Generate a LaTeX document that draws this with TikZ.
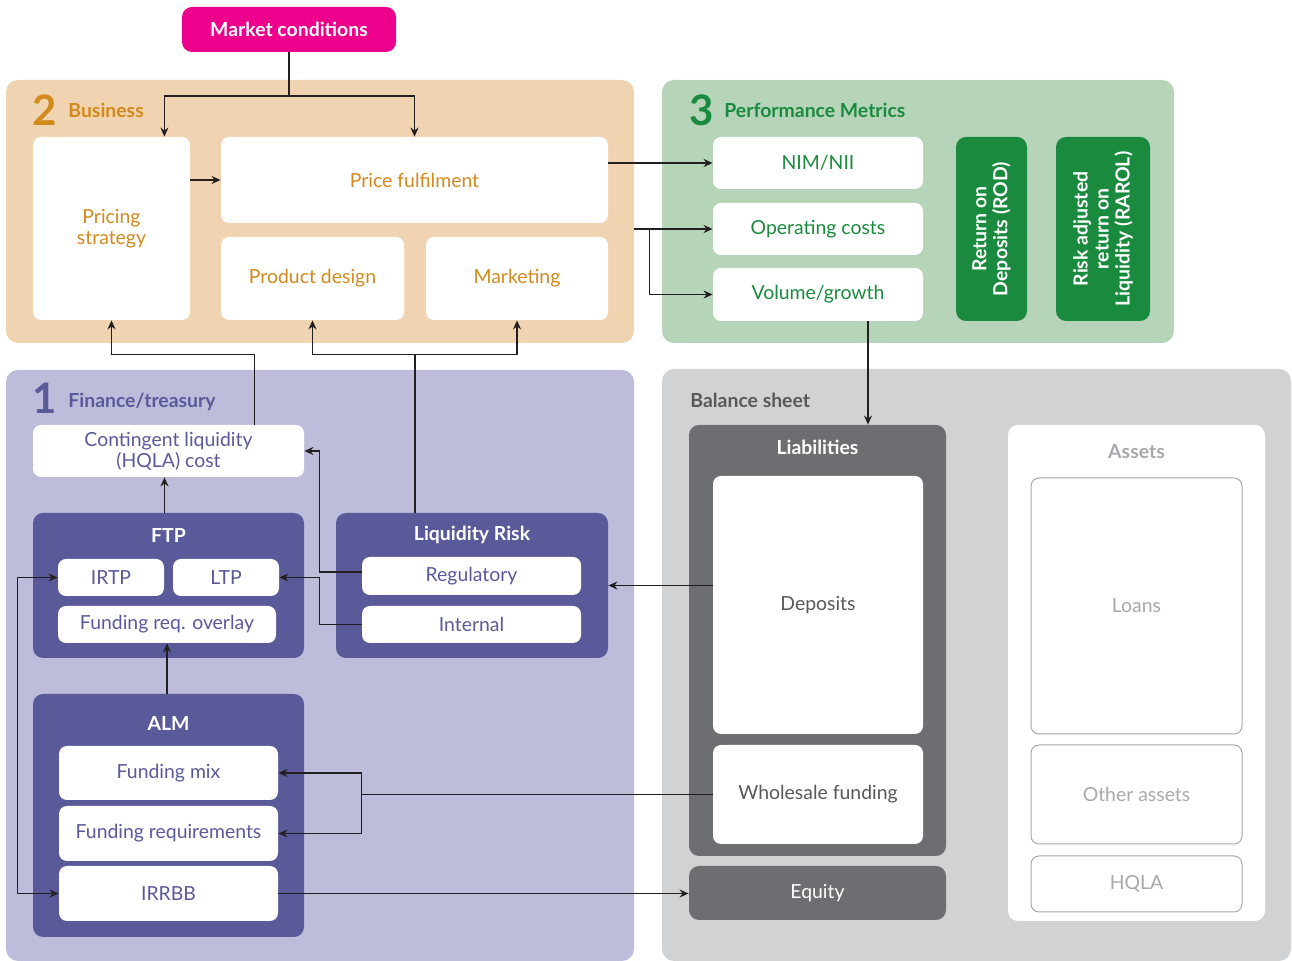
\documentclass[tikz,border=0pt]{standalone}
\usepackage{fontspec}
\setmainfont{Lato}
\usetikzlibrary{positioning,arrows.meta,calc}

\definecolor{mktpink}{HTML}{EC008C}
\definecolor{bizfill}{HTML}{F0D3B0}
\definecolor{biztext}{HTML}{D28A1C}
\definecolor{perffill}{HTML}{B6D4B8}
\definecolor{perftext}{HTML}{1A8B3E}
\definecolor{finfill}{HTML}{BDBDDB}
\definecolor{fintext}{HTML}{5A5A9A}
\definecolor{balfill}{HTML}{D1D2D4}
\definecolor{baldark}{HTML}{6D6E71}
\definecolor{baltext}{HTML}{58595B}
\definecolor{asstext}{HTML}{A7A9AC}
\definecolor{wirecol}{HTML}{231F20}

\newcommand{\boxfont}{\fontsize{9.7}{10.5}\selectfont}
\newcommand{\numfont}{\fontsize{21}{21}\selectfont\bfseries}

\begin{document}
\begin{tikzpicture}[x=0.5pt,y=-0.5pt,
  panel/.style={rounded corners=6pt,inner sep=0pt},
  wbox/.style={fill=white,rounded corners=4pt,inner sep=1pt,align=center,font=\boxfont},
  dbox/.style={rounded corners=5pt,inner sep=0pt,align=center},
  head/.style={font=\boxfont\bfseries,inner sep=0pt},
  num/.style={font=\numfont,anchor=base west,inner sep=0pt},
  ptitle/.style={font=\boxfont\bfseries,anchor=base west,inner sep=0pt},
  link/.style={line width=0.65pt,draw=wirecol},
  sig/.style={link,-{Stealth[length=4.5pt,width=4pt]}},
  sigboth/.style={link,{Stealth[length=4.5pt,width=4pt]}-{Stealth[length=4.5pt,width=4pt]}},
]
\useasboundingbox (0,0) rectangle (1292,961);

% market conditions
\node[rounded corners=5pt,fill=mktpink,text=white,font=\boxfont\bfseries,
  minimum width=107pt,minimum height=22.5pt] (mkt) at (289,29.5) {Market conditions};

% 2 business
\node[panel,fill=bizfill,minimum width=314pt,minimum height=131.5pt] (bizpanel) at (320,211.5) {};
\node[num,text=biztext] (biznum) at (32,126) {2};
\node[ptitle,text=biztext] (biztitle) at (68,118) {Business};
\node[wbox,text=biztext,minimum width=78.5pt,minimum height=91.5pt] (pricing) at (111.5,228.5) {Pricing\\strategy};
\node[wbox,text=biztext,minimum width=193.5pt,minimum height=43pt] (fulfil) at (414.5,180) {Price fulfilment};
\node[wbox,text=biztext,minimum width=91.5pt,minimum height=41.5pt] (design) at (312.5,278.5) {Product design};
\node[wbox,text=biztext,minimum width=91pt,minimum height=41.5pt] (mktg) at (517,278.5) {Marketing};

% 3 performance metrics
\node[panel,fill=perffill,minimum width=256pt,minimum height=131.5pt] (perfpanel) at (918,211.5) {};
\node[num,text=perftext] (perfnum) at (689,126) {3};
\node[ptitle,text=perftext] (perftitle) at (724,118) {Performance Metrics};
\node[wbox,text=perftext,minimum width=105pt,minimum height=26pt] (nim) at (818,163) {NIM/NII};
\node[wbox,text=perftext,minimum width=105pt,minimum height=26pt] (opcost) at (818,229) {Operating costs};
\node[wbox,text=perftext,minimum width=105pt,minimum height=26.5pt] (volume) at (818,294.5) {Volume/growth};
\node[dbox,fill=perftext,text=white,font=\boxfont\bfseries,rotate=90,
  minimum width=92pt,minimum height=35.5pt] (rod) at (991.5,229) {Return on\\Deposits (ROD)};
\node[dbox,fill=perftext,text=white,font=\boxfont\bfseries,rotate=90,
  minimum width=92pt,minimum height=47pt] (rarol) at (1103,229) {Risk adjusted\\return on\\Liquidity (RAROL)};

% 1 finance/treasury
\node[panel,fill=finfill,minimum width=314pt,minimum height=295.5pt] (finpanel) at (320,665.5) {};
\node[num,text=fintext] (finnum) at (32,414) {1};
\node[ptitle,text=fintext] (fintitle) at (68,408) {Finance/treasury};
\node[wbox,text=fintext,minimum width=135.5pt,minimum height=26pt] (hqlacost) at (168.5,451) {Contingent liquidity\\(HQLA) cost};
\node[dbox,fill=fintext,minimum width=135.5pt,minimum height=72.5pt] (ftp) at (168.5,585.5) {};
\node[head,text=white] (ftptitle) at (168.5,535) {FTP};
\node[wbox,text=fintext,minimum width=53pt,minimum height=18.5pt] (irtp) at (111,577.5) {IRTP};
\node[wbox,text=fintext,minimum width=53pt,minimum height=18.5pt] (ltp) at (226,577.5) {LTP};
\node[wbox,text=fintext,minimum width=109pt,minimum height=18.5pt] (overlay) at (167,624.5) {Funding req. overlay};
\node[dbox,fill=fintext,minimum width=136pt,minimum height=72.5pt] (liqrisk) at (472,585.5) {};
\node[head,text=white] (lrtitle) at (472,535) {Liquidity Risk};
\node[wbox,text=fintext,minimum width=109.5pt,minimum height=19pt] (regul) at (471.5,576) {Regulatory};
\node[wbox,text=fintext,minimum width=109.5pt,minimum height=18.5pt] (internal) at (471.5,624.5) {Internal};
\node[dbox,fill=fintext,minimum width=135.5pt,minimum height=121.5pt] (alm) at (168.5,815.5) {};
\node[head,text=white] (almtitle) at (168.5,723) {ALM};
\node[wbox,text=fintext,minimum width=109.5pt,minimum height=27pt] (fmix) at (168.5,773) {Funding mix};
\node[wbox,text=fintext,minimum width=109.5pt,minimum height=27.5pt] (freq) at (168.5,833.5) {Funding requirements};
\node[wbox,text=fintext,minimum width=109.5pt,minimum height=27.5pt] (irrbb) at (168.5,893.5) {IRRBB};

% balance sheet
\node[panel,fill=balfill,minimum width=314.5pt,minimum height=296pt] (balpanel) at (976.5,665) {};
\node[ptitle,text=baltext] (baltitle) at (690,408) {Balance sheet};
\node[dbox,fill=baldark,minimum width=128.5pt,minimum height=215.5pt] (liab) at (817.5,640.5) {};
\node[head,text=white] (liabtitle) at (817.5,447) {Liabilities};
\node[wbox,text=baltext,minimum width=105pt,minimum height=129pt] (deposits) at (818,605) {Deposits};
\node[wbox,text=baltext,minimum width=105pt,minimum height=49.5pt] (wholesale) at (818,794.5) {Wholesale funding};
\node[dbox,fill=baldark,text=white,font=\boxfont,minimum width=128.5pt,minimum height=27pt] (equity) at (817.5,893) {Equity};
\node[dbox,fill=white,minimum width=128.5pt,minimum height=248pt] (assets) at (1136.5,673) {};
\node[head,text=asstext] (asstitle) at (1136.5,452) {Assets};
\node[wbox,draw=asstext,line width=0.5pt,text=asstext,minimum width=105.5pt,minimum height=128pt] (loans) at (1136.5,606) {Loans};
\node[wbox,draw=asstext,line width=0.5pt,text=asstext,minimum width=105.5pt,minimum height=49.5pt] (other) at (1136.5,794.5) {Other assets};
\node[wbox,draw=asstext,line width=0.5pt,text=asstext,minimum width=105.5pt,minimum height=28pt] (hqla) at (1136.5,884) {HQLA};

% market conditions feed the business
\coordinate (mktsplit) at (289,96);
\draw[link] (mkt.south) -- (mktsplit);
\draw[sig] (mktsplit) -| ([xshift=-13pt]pricing.north east);
\draw[sig] (mktsplit) -| (fulfil.north);
\draw[sig] (pricing.east |- fulfil.west) -- (fulfil.west);

% business into the metrics
\draw[sig] (fulfil.east |- nim.west) -- (nim.west);
\draw[sig] (bizpanel.east |- opcost.west) -- (opcost.west);
\coordinate (perfsplit) at ($(bizpanel.east |- opcost.west)+(15,0)$);
\draw[sig] (perfsplit) |- (volume.west);
\draw[sig] ([xshift=25pt]volume.south) -- ([xshift=25pt]volume.south |- liab.north);

% finance/treasury up to the business
\draw[sig] ([xshift=43pt]hqlacost.north) -- ++(0,-70) -| (pricing.south);
\draw[link] ([xshift=-28.5pt]liqrisk.north) -- ++(0,-158) coordinate (lrsplit);
\draw[sig] (lrsplit) -| (design.south);
\draw[sig] (lrsplit) -| (mktg.south);

% inside finance/treasury
\draw[sig] ([xshift=-2pt]ftp.north) -- ([xshift=-2pt]ftp.north |- hqlacost.south);
\draw[sig] ([yshift=2pt]regul.west) -- ++(-42,0) |- (hqlacost.east);
\draw[sig] (internal.west) -- ++(-42,0) |- (ltp.east);
\draw[sig] (overlay.south |- alm.north) -- (overlay.south);
\draw[sigboth] (irtp.west) -- ++(-40,0) |- (irrbb.west);

% balance sheet links
\draw[sig] (deposits.west |- liqrisk.east) -- (liqrisk.east);
\draw[link] (wholesale.west) -- ++(-351,0) coordinate (almsplit);
\draw[sig] (almsplit) |- (fmix.east);
\draw[sig] (almsplit) |- (freq.east);
\draw[sig] (irrbb.east) -- (irrbb.east -| equity.west);
\end{tikzpicture}
\end{document}
